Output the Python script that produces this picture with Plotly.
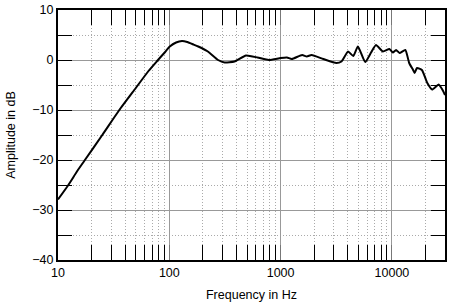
import plotly.graph_objects as go

freq = [10, 12.3, 15, 17.2, 25, 35.3, 50, 65, 77, 90, 101, 115, 130, 145, 165, 182,
        222, 274, 314, 385, 489, 621, 785, 1000, 1140, 1260, 1560, 1720, 1900, 2420,
        3170, 3520, 4040, 4500, 4950, 5750, 6500, 7200, 8300, 9500, 10200, 10900,
        11700, 13200, 14300, 15500, 16000, 16800, 18600, 20800, 23000, 26300, 28500, 30000]
amp = [-27.9, -25.1, -22.1, -20.2, -15.0, -10.1, -5.6, -2.2, -0.3, 1.4, 2.7, 3.5, 3.8, 3.6, 3.1, 2.7,
       1.7, 0.0, -0.5, -0.3, 0.9, 0.5, 0.0, 0.4, 0.5, 0.2, 1.0, 0.7, 1.0, 0.2,
       -0.6, -0.3, 1.7, 0.8, 2.7, -0.4, 1.5, 3.0, 1.7, 2.2, 1.5, 2.0,
       1.4, 2.0, -0.6, -2.0, -2.6, -1.6, -2.0, -4.6, -5.9, -4.9, -6.0, -7.0]

x_major = [10, 100, 1000, 10000]
x_labels = ["10", "100", "1000", "10000"]
x_minor = [m * d for d in [10, 100, 1000, 10000] for m in range(2, 10) if m * d <= 30000]
y_major = [10, 0, -10, -20, -30, -40]

FONT = "Liberation Sans, Arial, sans-serif"

fig = go.Figure()
fig.add_trace(go.Scatter(x=freq, y=amp, mode="lines",
                         line=dict(color="black", width=2, shape="spline", smoothing=0.5),
                         hoverinfo="skip", showlegend=False))

fig.update_layout(
    width=450, height=303,
    margin=dict(l=58, r=3, t=10, b=42),
    paper_bgcolor="white", plot_bgcolor="white",
    font=dict(family=FONT, size=12, color="black"),
    showlegend=False,
)
fig.update_xaxes(
    type="log", range=[1, 4.477],
    tickmode="array", tickvals=x_major, ticktext=x_labels,
    ticks="inside", ticklen=15, tickcolor="#777", tickwidth=1,
    showgrid=True, gridcolor="#999", gridwidth=1,
    showline=True, linecolor="black", linewidth=2, mirror="ticks",
    zeroline=False,
    minor=dict(tickmode="array", tickvals=x_minor, ticks="inside", ticklen=15,
               tickcolor="black", tickwidth=1.2,
               showgrid=True, gridcolor="#aaa", griddash="1px,2px", gridwidth=1),
    title=dict(text="Frequency in Hz", font=dict(size=12.5), standoff=11),
    tickfont=dict(size=12.5),
)
fig.update_yaxes(
    range=[-40, 10],
    tickmode="array", tickvals=y_major,
    ticks="inside", ticklen=14, tickcolor="black", tickwidth=1.2,
    showgrid=True, gridcolor="#999", gridwidth=1,
    showline=True, linecolor="black", linewidth=2, mirror="ticks",
    zeroline=False,
    minor=dict(dtick=5, tick0=0, ticks="inside", ticklen=14, tickcolor="black", tickwidth=1.2,
               showgrid=True, gridcolor="#aaa", griddash="1px,2px", gridwidth=1),
    title=dict(text="Amplitude in dB", font=dict(size=12.5), standoff=14),
    tickfont=dict(size=12.5),
)

fig.write_html("out.html")
